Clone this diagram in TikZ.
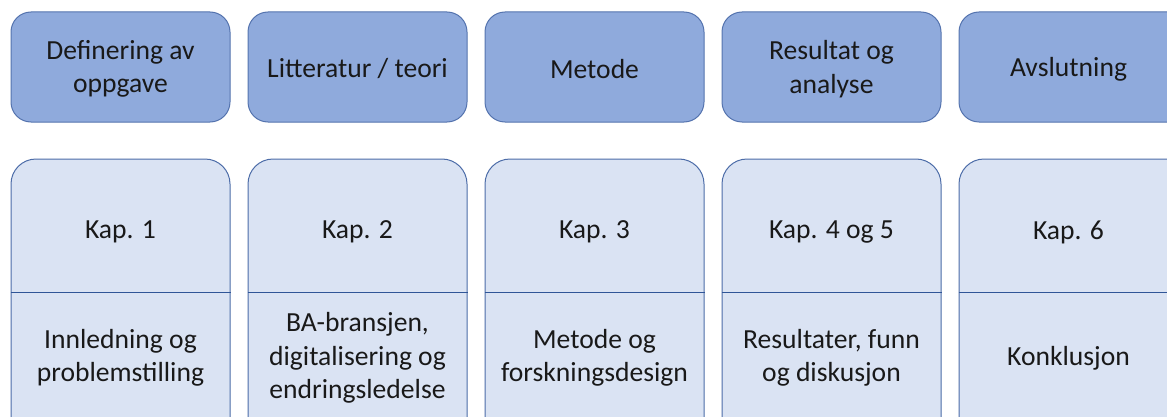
\documentclass[tikz,border=0pt]{standalone}
\usepackage{fontspec}
\setmainfont{Carlito}
\definecolor{topfill}{HTML}{8FAADC}
\definecolor{topline}{HTML}{5473AE}
\definecolor{botfill}{HTML}{DAE3F3}
\definecolor{botline}{HTML}{4C6CA8}
\definecolor{divline}{HTML}{2F5597}
\begin{document}
\begin{tikzpicture}[x=1pt,y=1pt,
  topbox/.style={draw=topline,fill=topfill,line width=1pt,rounded corners=20pt,minimum width=219pt,minimum height=110pt,inner sep=0pt},
  botbox/.style={draw=botline,fill=botfill,line width=1pt,rounded corners=25pt,minimum width=219pt,minimum height=287pt,inner sep=0pt},
  lbl/.style={font=\fontsize{27.6}{33.5}\selectfont,align=center,text=black!90,inner sep=0pt}]
\useasboundingbox (0,0) rectangle (1167,416);
\clip (0,0) rectangle (1167,416);
% top row
\node[topbox] (t1) at (120.5,349) {};
\node[topbox] (t2) at (357.5,349) {};
\node[topbox] (t3) at (594.5,349) {};
\node[topbox] (t4) at (831.5,349) {};
\node[topbox,minimum width=240pt] (t5) at (1079,349) {};
\node[lbl] (tt1) at (120.5,347) {Definering av\\oppgave};
\node[lbl] (tt2) at (357.5,347) {Litteratur / teori};
\node[lbl] (tt3) at (594.5,347) {Metode};
\node[lbl] (tt4) at (831.5,347) {Resultat og\\analyse};
\node[lbl] (tt5) at (1068.5,347) {Avslutning};
% bottom row
\node[botbox] (b1) at (120.5,113.5) {};
\node[botbox] (b2) at (357.5,113.5) {};
\node[botbox] (b3) at (594.5,113.5) {};
\node[botbox] (b4) at (831.5,113.5) {};
\node[botbox,minimum width=240pt] (b5) at (1079,113.5) {};
\foreach \i in {1,...,5}{
  \draw[divline,line width=1pt] (b\i.west |- 0,124) -- (b\i.east |- 0,124);
}
\node[lbl] (k1) at (120.5,184) {Kap. 1};
\node[lbl] (k2) at (357.5,184) {Kap. 2};
\node[lbl] (k3) at (594.5,184) {Kap. 3};
\node[lbl] (k4) at (831.5,184) {Kap. 4 og 5};
\node[lbl] (k5) at (1068.5,184) {Kap. 6};
\node[lbl] (d1) at (120.5,58) {Innledning og\\problemstilling};
\node[lbl] (d2) at (357.5,58) {BA-bransjen,\\digitalisering og\\endringsledelse};
\node[lbl] (d3) at (594.5,58) {Metode og\\forskningsdesign};
\node[lbl] (d4) at (831.5,58) {Resultater, funn\\og diskusjon};
\node[lbl] (d5) at (1068.5,58) {Konklusjon};
\end{tikzpicture}
\end{document}
